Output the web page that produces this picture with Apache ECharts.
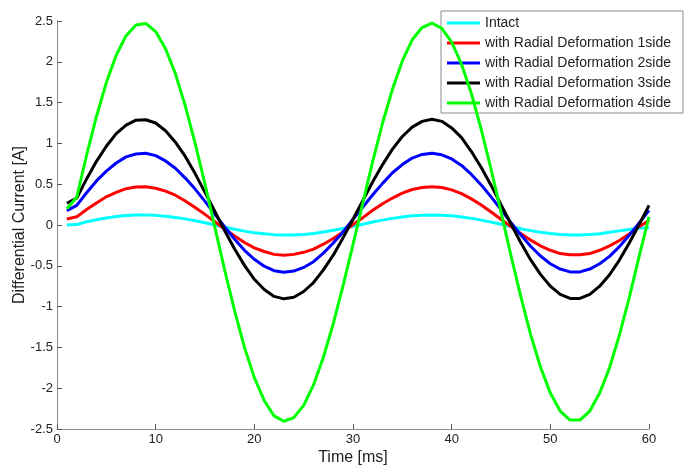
<!DOCTYPE html>
<html>
<head>
<meta charset="utf-8">
<script src="https://cdn.jsdelivr.net/npm/echarts@6/dist/echarts.min.js"></script>
<style>html,body{margin:0;padding:0;background:#fff}#c{width:684px;height:466px}</style>
</head>
<body>
<div id="c"></div>
<script>
var time = [1,2,3,4,5,6,7,8,9,10,11,12,13,14,15,16,17,18,19,20,21,22,23,24,25,26,27,28,29,30,31,32,33,34,35,36,37,38,39,40,41,42,43,44,45,46,47,48,49,50,51,52,53,54,55,56,57,58,59,60];
var intact = [0.0,0.005,0.04,0.065,0.086,0.103,0.115,0.122,0.123,0.118,0.108,0.093,0.075,0.052,0.027,0.0,-0.027,-0.052,-0.075,-0.094,-0.108,-0.118,-0.123,-0.122,-0.115,-0.103,-0.086,-0.065,-0.042,-0.016,0.01,0.036,0.06,0.081,0.099,0.112,0.12,0.123,0.12,0.112,0.099,0.081,0.06,0.035,0.009,-0.018,-0.045,-0.069,-0.089,-0.105,-0.117,-0.122,-0.122,-0.117,-0.106,-0.09,-0.072,-0.055,-0.04,-0.03];
var side1 = [0.074,0.10,0.19,0.27,0.345,0.40,0.445,0.465,0.47,0.45,0.415,0.365,0.295,0.215,0.13,0.04,-0.05,-0.135,-0.215,-0.28,-0.325,-0.36,-0.37,-0.36,-0.335,-0.295,-0.235,-0.165,-0.085,0.005,0.09,0.18,0.26,0.33,0.39,0.435,0.46,0.47,0.46,0.43,0.385,0.32,0.245,0.16,0.07,-0.02,-0.105,-0.185,-0.255,-0.31,-0.35,-0.365,-0.365,-0.35,-0.31,-0.255,-0.19,-0.11,-0.02,0.055];
var side2 = [0.176,0.24,0.395,0.54,0.66,0.76,0.835,0.87,0.88,0.85,0.785,0.695,0.575,0.44,0.29,0.13,-0.025,-0.175,-0.31,-0.42,-0.505,-0.56,-0.58,-0.565,-0.52,-0.45,-0.345,-0.22,-0.085,0.07,0.22,0.37,0.51,0.64,0.74,0.82,0.865,0.88,0.86,0.81,0.73,0.62,0.49,0.345,0.19,0.03,-0.12,-0.26,-0.38,-0.475,-0.54,-0.575,-0.575,-0.54,-0.475,-0.385,-0.265,-0.125,0.025,0.18];
var side3 = [0.266,0.33,0.565,0.78,0.965,1.12,1.225,1.285,1.29,1.25,1.155,1.015,0.84,0.63,0.40,0.165,-0.07,-0.295,-0.495,-0.665,-0.79,-0.875,-0.905,-0.885,-0.815,-0.705,-0.55,-0.37,-0.155,0.07,0.30,0.53,0.74,0.93,1.085,1.20,1.27,1.295,1.27,1.19,1.07,0.90,0.705,0.485,0.25,0.015,-0.215,-0.425,-0.605,-0.75,-0.85,-0.90,-0.90,-0.85,-0.75,-0.61,-0.43,-0.22,0.005,0.24];
var side4 = [0.20,0.34,0.855,1.33,1.745,2.08,2.32,2.45,2.47,2.37,2.16,1.855,1.46,1.00,0.50,-0.03,-0.555,-1.05,-1.50,-1.87,-2.15,-2.34,-2.405,-2.36,-2.21,-1.96,-1.62,-1.21,-0.74,-0.24,0.27,0.78,1.25,1.665,2.01,2.27,2.42,2.475,2.41,2.24,1.97,1.61,1.17,0.68,0.16,-0.37,-0.875,-1.34,-1.74,-2.06,-2.28,-2.39,-2.39,-2.28,-2.06,-1.75,-1.35,-0.89,-0.385,0.10];

var names = ['Intact','with Radial Deformation 1side','with Radial Deformation 2side','with Radial Deformation 3side','with Radial Deformation 4side'];
var colors = ['#00ffff','#ff0000','#0000ff','#000000','#00ff00'];
var values = [intact, side1, side2, side3, side4];

function pairs(v){ return time.map(function(t,i){ return [t, v[i]]; }); }

var font = 'Arial, "Liberation Sans", sans-serif';
var chart = echarts.init(document.getElementById('c'));
chart.setOption({
  animation: false,
  backgroundColor: '#fff',
  grid: {left: 57, right: 35, top: 21, bottom: 37, containLabel: false, outerBoundsMode: 'none'},
  legend: {
    orient: 'vertical', left: 441, top: 11,
    padding: [5, 12, 3, 6], itemGap: 6, itemWidth: 33, itemHeight: 3,
    icon: 'rect',
    backgroundColor: '#fff', borderColor: '#8c8c8c', borderWidth: 1,
    textStyle: {fontFamily: font, fontSize: 14, lineHeight: 14, color: '#222'},
    data: names
  },
  xAxis: {
    type: 'value', min: 0, max: 60, interval: 10,
    name: 'Time [ms]', nameLocation: 'middle', nameGap: 21, nameMoveOverlap: false,
    nameTextStyle: {fontFamily: font, fontSize: 16, color: '#222'},
    axisLine: {onZero: false, lineStyle: {color: '#8c8c8c'}},
    axisTick: {inside: true, length: 5, lineStyle: {color: '#555'}},
    axisLabel: {fontFamily: font, fontSize: 13, color: '#222', margin: 4},
    splitLine: {show: false}
  },
  yAxis: {
    type: 'value', min: -2.5, max: 2.5, interval: 0.5,
    name: 'Differential Current [A]', nameLocation: 'middle', nameGap: 29, nameMoveOverlap: false,
    nameTextStyle: {fontFamily: font, fontSize: 16, color: '#222'},
    axisLine: {show: true, onZero: false, lineStyle: {color: '#8c8c8c'}},
    axisTick: {show: true, inside: true, length: 5, lineStyle: {color: '#555'}},
    axisLabel: {fontFamily: font, fontSize: 13, color: '#222', margin: 4},
    splitLine: {show: false}
  },
  series: names.map(function(n, k){
    return {
      name: n, type: 'line', data: pairs(values[k]),
      symbol: 'none', smooth: false,
      lineStyle: {color: colors[k], width: 3},
      itemStyle: {color: colors[k]},
      z: 2 + k
    };
  })
});
</script>
</body>
</html>
